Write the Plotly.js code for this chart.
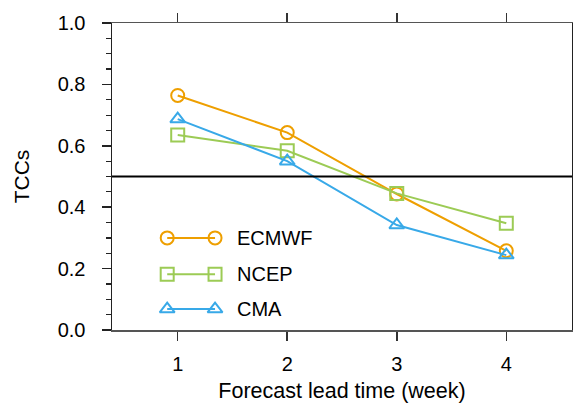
<!DOCTYPE html>
<html><head><meta charset="utf-8">
<script src="https://cdn.plot.ly/plotly-3.0.1.min.js"></script>
<style>html,body{margin:0;padding:0;background:#fff}#chart{width:573px;height:404px}</style>
</head><body><div id="chart"></div>
<script>
const weeks = [1, 2, 3, 4];
const ecmwf = [0.764, 0.643, 0.443, 0.258];
const ncep  = [0.635, 0.584, 0.445, 0.348];
const cma   = [0.687, 0.550, 0.342, 0.244];
const seriesNames = ['ECMWF', 'NCEP', 'CMA'];
const refLevel = 0.5;
const yTicks = [0, 0.2, 0.4, 0.6, 0.8, 1.0];
const yTickText = ['0.0', '0.2', '0.4', '0.6', '0.8', '1.0'];

const colors = ['#EE9F00', '#9CCB55', '#38A9E8'];
const symbols = ['circle-open', 'square-open', 'triangle-up-open'];
const FONT = 'Liberation Sans, Arial, Helvetica, sans-serif';

const data = [ecmwf, ncep, cma].map((ys, i) => ({
  x: weeks, y: ys, type: 'scatter', mode: 'lines+markers', name: seriesNames[i],
  line: {color: colors[i], width: 2},
  marker: {symbol: symbols[i], size: 13, color: colors[i], line: {color: colors[i], width: 2}},
  showlegend: false, cliponaxis: false
}));

// custom legend keys (line with marker at both ends) on an overlay paper-like axis
const legX = [0.12, 0.224];
const legY = [0.300, 0.182, 0.068];
seriesNames.forEach((n, i) => {
  data.push({
    x: legX, y: [legY[i], legY[i]], xaxis: 'x2', yaxis: 'y2', type: 'scatter', mode: 'lines+markers',
    line: {color: colors[i], width: 2},
    marker: {symbol: symbols[i], size: 13, color: colors[i], line: {color: colors[i], width: 2}},
    showlegend: false, hoverinfo: 'skip', cliponaxis: false
  });
});

const annotations = seriesNames.map((n, i) => ({
  xref: 'paper', yref: 'paper', x: 0.268, y: legY[i], text: n, showarrow: false,
  xanchor: 'left', yanchor: 'middle', font: {family: FONT, size: 20, color: '#000'}
}));

const layout = {
  width: 573, height: 404,
  margin: {l: 112, r: 1, t: 23, b: 74},
  paper_bgcolor: '#fff', plot_bgcolor: '#fff',
  font: {family: FONT, size: 20, color: '#000'},
  xaxis: {
    range: [0.4, 4.6], tickvals: weeks, ticktext: weeks.map(String),
    ticks: 'outside', ticklen: 9, tickwidth: 1.5, tickcolor: '#333',
    showline: true, linecolor: '#555', linewidth: 1.5, mirror: 'ticks',
    showgrid: false, zeroline: false, ticklabelstandoff: 6,
    tickfont: {family: FONT, size: 20, color: '#000'},
    title: {text: 'Forecast lead time (week)', font: {family: FONT, size: 21.5, color: '#000'}, standoff: 9}
  },
  yaxis: {
    range: [0, 1], tickvals: yTicks, ticktext: yTickText,
    ticks: 'outside', ticklen: 9, tickwidth: 1.5, tickcolor: '#222',
    minor: {dtick: 0.05, ticks: 'outside', ticklen: 5, tickwidth: 1.2, tickcolor: '#222', showgrid: false},
    showline: true, linecolor: '#222', linewidth: 1.5, mirror: true,
    showgrid: false, zeroline: false, ticklabelstandoff: 12,
    tickfont: {family: FONT, size: 20, color: '#000'},
    title: {text: 'TCCs', font: {family: FONT, size: 21, color: '#000'}, standoff: 22}
  },
  xaxis2: {overlaying: 'x', range: [0, 1], visible: false, fixedrange: true},
  yaxis2: {overlaying: 'y', range: [0, 1], visible: false, fixedrange: true},
  shapes: [{type: 'line', xref: 'paper', yref: 'y', x0: 0, x1: 1, y0: refLevel, y1: refLevel,
            line: {color: '#000', width: 2}}],
  annotations: annotations,
  showlegend: false
};

Plotly.newPlot('chart', data, layout, {displayModeBar: false, staticPlot: true});
</script></body></html>
